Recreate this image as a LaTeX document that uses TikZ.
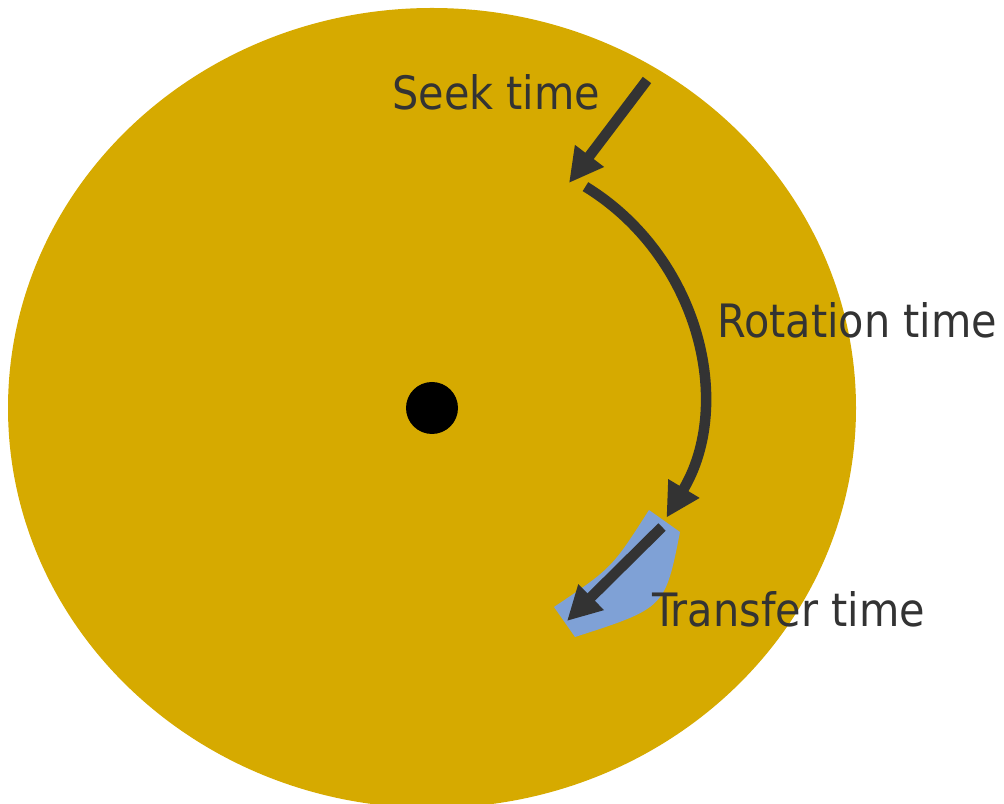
\documentclass[tikz,border=0pt]{standalone}
\usepackage{fontspec}
\setmainfont{DejaVu Sans Condensed}
\usetikzlibrary{arrows.meta,calc}
\definecolor{platter}{HTML}{D6AA00}
\definecolor{sector}{HTML}{7FA1D6}
\definecolor{ink}{HTML}{333333}
\tikzset{
  move/.style={-{Triangle[length=0.68cm,width=0.68cm]}, line width=0.21cm, color=ink},
  lbl/.style={font=\fontsize{26.2}{30}\selectfont, text=ink, anchor=base west, inner sep=0pt},
}

\begin{document}
\begin{tikzpicture}[x=0.02cm,y=0.02cm]
  \useasboundingbox (0,0) rectangle (1004,804);
  \fill[platter] (432,396) ellipse [x radius=424, y radius=400];
  \node[circle, fill=black, minimum size=1.04cm, inner sep=0pt] (spindle) at (432,396) {};
  % block on the track
  \fill[sector] (649,294) .. controls (612,236) .. (554,197) -- (575,167)
    .. controls (665,196) .. (680,272) -- cycle;
  \coordinate (seek0) at (647,724);
  \coordinate (seek1) at (569,621);
  \coordinate (rot0) at ($(459,411)+(58.5:242)$);
  \coordinate (xfer0) at (662,277);
  \coordinate (xfer1) at (567,183);
  \draw[move] (seek0) -- (seek1);
  \draw[move] (rot0) arc[start angle=58.5, end angle=-31, radius=242];
  \draw[move] (xfer0) -- (xfer1);
  \node[lbl] (seek) at (392,694) {Seek time};
  \node[lbl] (rot) at (717,466) {Rotation time};
  \node[lbl] (xfer) at (652,177) {Transfer time};
\end{tikzpicture}
\end{document}
